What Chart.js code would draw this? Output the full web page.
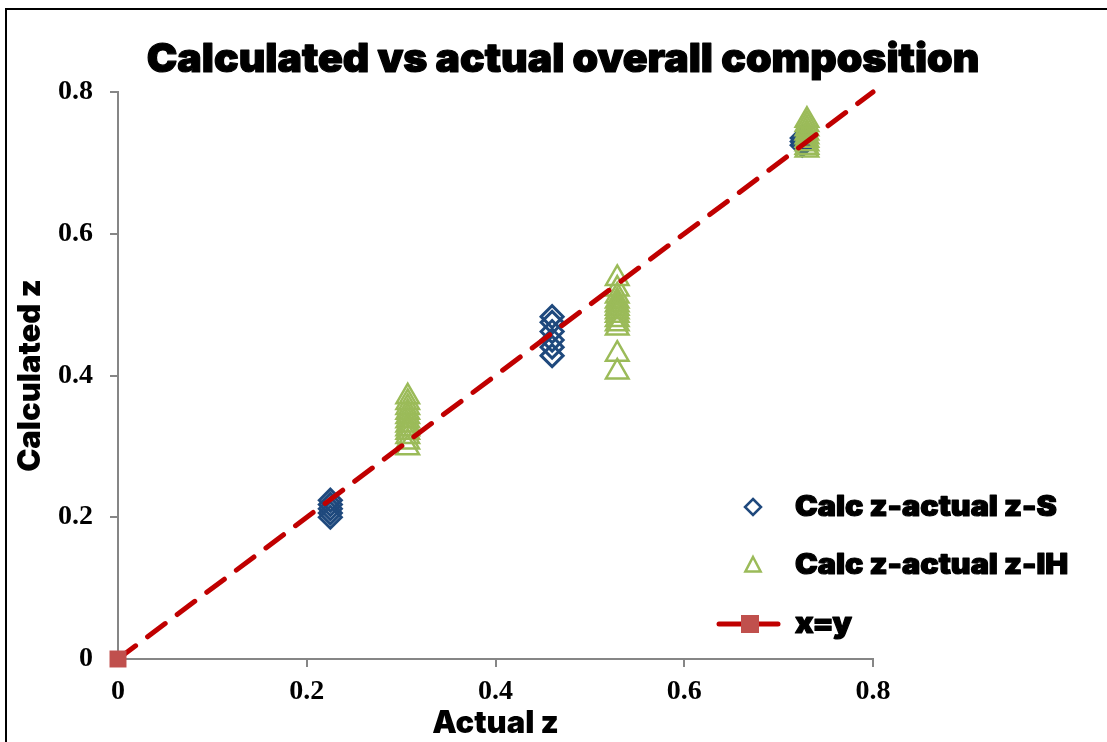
<!DOCTYPE html>
<html>
<head>
<meta charset="utf-8">
<script src="https://cdn.jsdelivr.net/npm/chart.js@4.4.1/dist/chart.umd.min.js"></script>
<style>
  html, body { margin: 0; padding: 0; background: #ffffff; }
  #wrap { position: relative; width: 1107px; height: 742px; }
</style>
</head>
<body>
<div id="wrap"><canvas id="chart" width="1107" height="742"></canvas></div>
<script>
// Chart text
const chartTitle = 'Calculated vs actual overall composition';
const xAxisTitle = 'Actual z';
const yAxisTitle = 'Calculated z';
const seriesNames = ['Calc z-actual z-S', 'Calc z-actual z-IH', 'x=y'];

// Series S: actual z and calculated z
const sActual = [0.225, 0.225, 0.225, 0.225, 0.225,
                 0.46, 0.46, 0.46, 0.46, 0.46, 0.46,
                 0.725, 0.725, 0.725];
const sCalc   = [0.224, 0.218, 0.212, 0.206, 0.200,
                 0.483, 0.475, 0.462, 0.450, 0.440, 0.428,
                 0.735, 0.730, 0.725];

// Series IH: actual z and calculated z
const ihActual = [0.307, 0.307, 0.307, 0.307, 0.307, 0.307, 0.307, 0.307, 0.307, 0.307, 0.307, 0.307,
                  0.529, 0.529, 0.529, 0.529, 0.529, 0.529, 0.529, 0.529, 0.529, 0.529, 0.529, 0.529, 0.529,
                  0.73, 0.73, 0.73, 0.73, 0.73, 0.73, 0.73, 0.73, 0.73];
const ihCalc   = [0.370, 0.362, 0.355, 0.348, 0.342, 0.336, 0.330, 0.325, 0.320, 0.314, 0.306, 0.298,
                  0.537, 0.522, 0.512, 0.505, 0.500, 0.495, 0.490, 0.485, 0.479, 0.473, 0.467, 0.430, 0.405,
                  0.760, 0.754, 0.748, 0.742, 0.737, 0.732, 0.727, 0.722, 0.718];

// Reference line x = y
const lineX = [0, 0.8];
const lineY = [0, 0.8];

// Axis ticks
const xTicks = [0, 0.2, 0.4, 0.6, 0.8];
const yTicks = [0, 0.2, 0.4, 0.6, 0.8];

const toPoints = (xs, ys) => xs.map((x, i) => ({ x: x, y: ys[i] }));

const heavy = '"Inter", "DejaVu Sans", sans-serif';
const serif = '"Liberation Serif", "Times New Roman", serif';
const axisGray = '#868686';

// Heavy text helper: slightly widened, with a thin outline for extra weight
function heavyText(ctx, text, x, y, size, stretch, align) {
  ctx.save();
  ctx.font = '900 ' + size + 'px ' + heavy;
  ctx.textAlign = align;
  ctx.textBaseline = 'middle';
  ctx.translate(x, y);
  ctx.scale(stretch, 1);
  ctx.fillStyle = '#000000';
  ctx.strokeStyle = '#000000';
  ctx.lineWidth = 1.2;
  ctx.lineJoin = 'round';
  ctx.fillText(text, 0, 0);
  ctx.strokeText(text, 0, 0);
  ctx.restore();
}

function drawMarkerPath(ctx, style, x, y, r) {
  if (style === 'rectRot') {
    ctx.moveTo(x, y - r);
    ctx.lineTo(x + r, y);
    ctx.lineTo(x, y + r);
    ctx.lineTo(x - r, y);
    ctx.closePath();
  } else if (style === 'triangle') {
    ctx.moveTo(x, y - r);
    ctx.lineTo(x + r * 0.95, y + r * 0.8);
    ctx.lineTo(x - r * 0.95, y + r * 0.8);
    ctx.closePath();
  }
}

// Title, frame and in-plot legend
const decorations = {
  id: 'decorations',
  afterDraw(chart) {
    const ctx = chart.ctx;
    ctx.save();
    // outer frame
    ctx.strokeStyle = '#000000';
    ctx.lineWidth = 2;
    ctx.strokeRect(6, 9, 1200, 900);
    // title
    heavyText(ctx, chartTitle, 563, 60, 40, 1.025, 'center');

    // legend
    const rows = [507, 565, 624];
    chart.data.datasets.forEach((ds, i) => {
      const y = rows[i];
      if (ds.showLine) {
        ctx.strokeStyle = ds.borderColor;
        ctx.lineWidth = 5;
        ctx.lineCap = 'round';
        ctx.beginPath();
        ctx.moveTo(719, y);
        ctx.lineTo(778, y);
        ctx.stroke();
        ctx.fillStyle = ds.pointBackgroundColor;
        ctx.fillRect(741, y - 9, 18, 18);
      } else {
        ctx.strokeStyle = ds.pointBorderColor;
        ctx.lineWidth = 2.5;
        ctx.lineJoin = 'miter';
        ctx.beginPath();
        drawMarkerPath(ctx, ds.pointStyle, 753, y, 8);
        ctx.stroke();
      }
      heavyText(ctx, ds.label, 795, y + 1, 28, 1.09, 'left');
    });
    ctx.restore();
  }
};

new Chart(document.getElementById('chart'), {
  type: 'scatter',
  data: {
    datasets: [
      {
        label: seriesNames[0],
        data: toPoints(sActual, sCalc),
        pointStyle: 'rectRot',
        pointRadius: 11,
        pointBorderWidth: 3,
        pointBorderColor: '#1F497D',
        pointBackgroundColor: 'rgba(0,0,0,0)',
        borderColor: '#1F497D',
        order: 3
      },
      {
        label: seriesNames[1],
        data: toPoints(ihActual, ihCalc),
        pointStyle: 'triangle',
        pointRadius: 13,
        pointBorderWidth: 2.5,
        pointBorderColor: '#9BBB59',
        pointBackgroundColor: 'rgba(0,0,0,0)',
        borderColor: '#9BBB59',
        order: 2
      },
      {
        label: seriesNames[2],
        data: toPoints(lineX, lineY),
        showLine: true,
        clip: false,
        borderColor: '#C00000',
        borderWidth: 5,
        borderDash: [22, 15],
        borderCapStyle: 'round',
        pointStyle: 'rect',
        pointRadius: [12, 0],
        pointBorderWidth: 0,
        pointBackgroundColor: '#C0504D',
        pointBorderColor: '#C0504D',
        order: 1
      }
    ]
  },
  options: {
    responsive: false,
    animation: false,
    events: [],
    layout: { padding: { top: 92, left: 0, right: 0, bottom: 0 } },
    plugins: {
      legend: { display: false },
      title: { display: false },
      tooltip: { enabled: false }
    },
    scales: {
      x: {
        type: 'linear',
        min: 0,
        max: 0.8,
        afterBuildTicks: (s) => { s.ticks = xTicks.map(v => ({ value: v })); },
        afterFit: (s) => { s.height = 83; },
        border: { display: true, color: axisGray, width: 2 },
        grid: { display: true, drawOnChartArea: false, drawTicks: true, tickLength: 8, color: axisGray, lineWidth: 2 },
        ticks: {
          color: '#000000',
          padding: 8,
          font: { family: serif, size: 28, weight: 'bold' },
          callback: (v) => String(v)
        },
        title: {
          display: true,
          text: xAxisTitle,
          color: '#000000',
          font: { family: heavy, size: 31, weight: 900 },
          padding: { top: 0, bottom: 0 }
        }
      },
      y: {
        type: 'linear',
        min: 0,
        max: 0.8,
        afterBuildTicks: (s) => { s.ticks = yTicks.map(v => ({ value: v })); },
        afterFit: (s) => { s.width = 118; },
        border: { display: true, color: axisGray, width: 2 },
        grid: { display: true, drawOnChartArea: false, drawTicks: true, tickLength: 8, color: axisGray, lineWidth: 2 },
        ticks: {
          color: '#000000',
          padding: 17,
          font: { family: serif, size: 28, weight: 'bold' },
          callback: (v) => String(v)
        },
        title: {
          display: true,
          text: yAxisTitle,
          color: '#000000',
          font: { family: heavy, size: 31, weight: 900 },
          padding: { top: 12, bottom: 0 }
        }
      },
      spacer: {
        type: 'linear',
        position: 'right',
        display: true,
        afterFit: (s) => { s.width = 234; },
        border: { display: false },
        grid: { display: false },
        ticks: { display: false }
      }
    }
  },
  plugins: [decorations]
});
</script>
</body>
</html>
